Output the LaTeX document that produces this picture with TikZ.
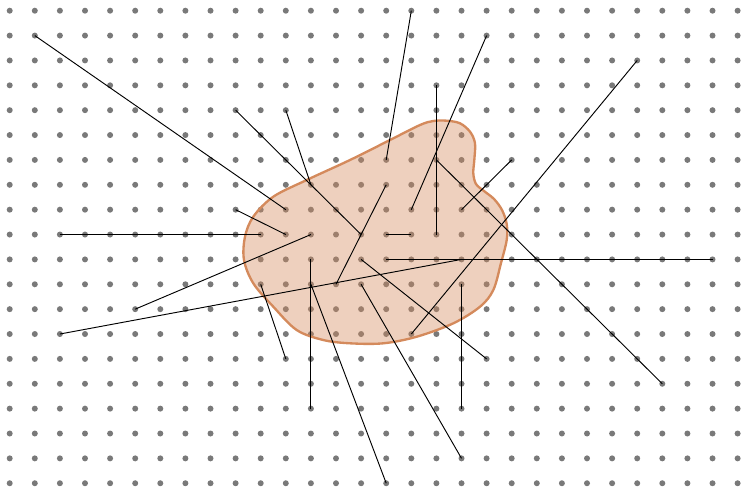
\documentclass[tikz,border=0pt]{standalone}
\usetikzlibrary{calc}
\definecolor{blobline}{RGB}{212,138,92}
\tikzset{
  dot/.style={fill=gray!95!black},
  link/.style={black,line width=0.8pt},
  region/.style={draw=blobline,line width=2pt,fill=blobline,fill opacity=0.4}
}
\begin{document}
\begin{tikzpicture}[x=0.03cm,y=-0.03cm]
  \useasboundingbox (0,0) rectangle (741,490);
  % lattice points
  \foreach \i in {0,...,29}
    \foreach \j in {0,...,19}
      \coordinate (p-\i-\j) at ({9.7+25.1*\i},{10.7+24.87*\j});
  \foreach \i in {0,...,29}
    \foreach \j in {0,...,19}
      \fill[dot] (p-\i-\j) circle (0.09cm);
  % the region
  \draw[region] plot[smooth cycle,tension=0.55] coordinates {
    (446.7,120.7) (460,123.3) (470,131.7) (475,143.3) (474.3,160)
    (473.3,173.3) (476,184) (484,191) (494,199) (502,210)
    (506.7,224) (506.7,240) (501,263) (493.3,290) (480,306.7)
    (453.3,323.3) (416.7,336.7) (383.3,343.3) (350,343.3) (323.3,340)
    (296.7,330) (273.3,306.7) (253.3,283.3) (244,260) (245,236.7)
    (253.3,216.7) (273.3,196.7) (306.7,180) (350,160) (390,140)
    (420,125) (433.3,121)};
  % segments between lattice points
  \draw[link] (p-1-1) -- (p-11-8);
  \draw[link] (p-9-4) -- (p-14-9);
  \draw[link] (p-11-4) -- (p-12-7);
  \draw[link] (p-16-0) -- (p-15-6);
  \draw[link] (p-19-1) -- (p-16-8);
  \draw[link] (p-17-3) -- (p-17-9);
  \draw[link] (p-17-6) -- (p-26-15);
  \draw[link] (p-20-6) -- (p-18-8);
  \draw[link] (p-25-2) -- (p-16-13);
  \draw[link] (p-2-9) -- (p-10-9);
  \draw[link] (p-9-8) -- (p-11-9);
  \draw[link] (p-5-12) -- (p-12-9);
  \draw[link] (p-2-13) -- (p-18-10);
  \draw[link] (p-13-11) -- (p-15-7);
  \draw[link] (p-15-9) -- (p-16-9);
  \draw[link] (p-15-10) -- (p-28-10);
  \draw[link] (p-14-10) -- (p-19-14);
  \draw[link] (p-18-11) -- (p-18-16);
  \draw[link] (p-14-11) -- (p-18-18);
  \draw[link] (p-12-10) -- (p-12-16);
  \draw[link] (p-12-11) -- (p-15-19);
  \draw[link] (p-10-11) -- (p-11-14);
\end{tikzpicture}
\end{document}
